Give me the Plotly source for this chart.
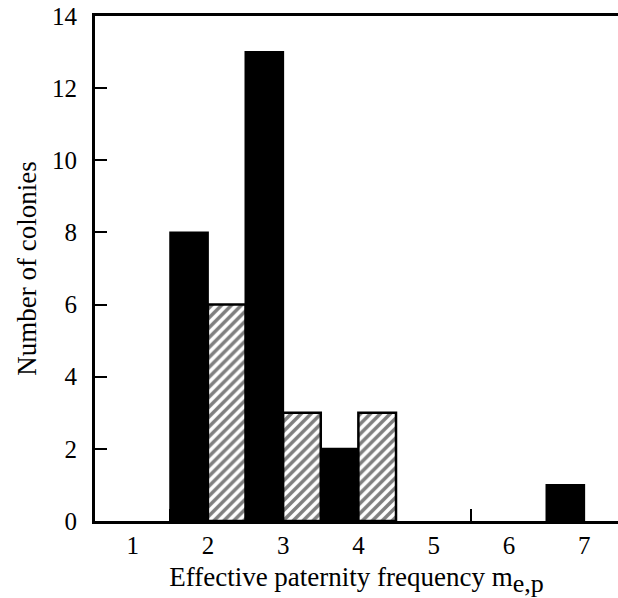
import plotly.graph_objects as go

# Data
paternity = [1, 2, 3, 4, 5, 6, 7]
black_counts = [0, 8, 13, 2, 0, 0, 1]
hatched_counts = [0, 6, 3, 3, 0, 0, 0]
x_tick_labels = ["1", "2", "3", "4", "5", "6", "7"]
bin_edges = [1.5, 2.5, 3.5, 4.5, 5.5, 6.5]
y_ticks = [0, 2, 4, 6, 8, 10, 12, 14]

FONT = "Liberation Serif, Times New Roman, serif"


def nonzero(values):
    # empty bins are drawn as no bar at all
    return [v if v else None for v in values]


fig = go.Figure()
fig.add_trace(go.Bar(
    x=paternity, y=nonzero(black_counts), width=0.5, offset=-0.5,
    marker=dict(color="black", line=dict(color="black", width=2)),
    showlegend=False,
))
fig.add_trace(go.Bar(
    x=paternity, y=nonzero(hatched_counts), width=0.5, offset=0,
    marker=dict(color="white", line=dict(color="black", width=2.5),
                pattern=dict(shape="/", fgcolor="black", bgcolor="white",
                             size=7, solidity=0.5)),
    showlegend=False,
))

fig.update_layout(
    width=618, height=598,
    margin=dict(l=95, r=0, t=16, b=77),
    paper_bgcolor="white", plot_bgcolor="white",
    barmode="overlay",
    font=dict(family=FONT, color="black", size=25),
    xaxis=dict(
        range=[0.5, 7.45], tickvals=paternity, ticktext=x_tick_labels,
        ticks="", showgrid=False, zeroline=False,
        showline=True, linecolor="black", linewidth=3, mirror=True,
        tickfont=dict(family=FONT, size=25),
        minor=dict(tickvals=bin_edges, ticks="inside", ticklen=12,
                   tickwidth=2, tickcolor="black", showgrid=False),
        title=dict(text="Effective paternity frequency m<sub><span style='font-size:26px'>e,p</span></sub>",
                   font=dict(family=FONT, size=27), standoff=12),
    ),
    yaxis=dict(
        range=[0, 14], tickvals=y_ticks,
        ticks="inside", ticklen=12, tickwidth=2, tickcolor="black",
        showgrid=False, zeroline=False,
        showline=True, linecolor="black", linewidth=3,
        tickfont=dict(family=FONT, size=25),
        ticklabelstandoff=10,
        title=dict(text="Number of colonies",
                   font=dict(family=FONT, size=27), standoff=8),
    ),
)

fig.write_html("out.html")
